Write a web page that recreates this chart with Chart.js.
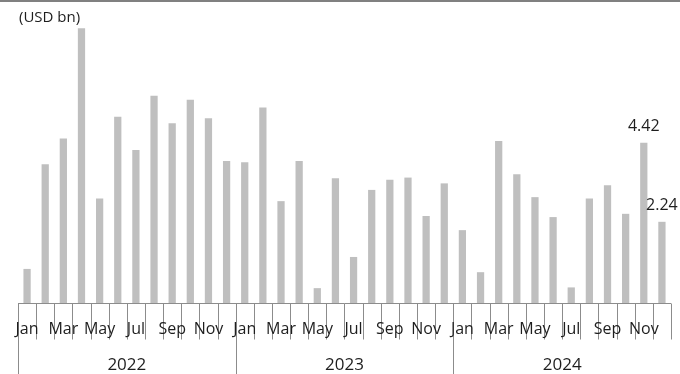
<!DOCTYPE html>
<html>
<head>
<meta charset="utf-8">
<script src="https://cdn.jsdelivr.net/npm/chart.js@4"></script>
<style>
  html, body { margin: 0; padding: 0; background: #ffffff; }
  #wrap { width: 680px; height: 374px; }
</style>
</head>
<body>
<div id="wrap"><canvas id="c" width="680" height="374"></canvas></div>
<script>
// Monthly amounts, USD bn
const monthNames = ['Jan','Feb','Mar','Apr','May','Jun','Jul','Aug','Sep','Oct','Nov','Dec'];
const years = ['2022', '2023', '2024'];
const values2022 = [0.94, 3.83, 4.54, 7.58, 2.88, 5.14, 4.22, 5.72, 4.96, 5.61, 5.10, 3.92];
const values2023 = [3.88, 5.39, 2.81, 3.92, 0.41, 3.44, 1.27, 3.12, 3.40, 3.46, 2.40, 3.30];
const values2024 = [2.01, 0.85, 4.47, 3.55, 2.92, 2.37, 0.43, 2.88, 3.25, 2.46, 4.42, 2.24];
// months whose value is written above the bar
const labelledMonths = ['2024-Nov', '2024-Dec'];

const categories = [];
years.forEach(y => monthNames.forEach(m => categories.push(y + '-' + m)));
const values = [].concat(values2022, values2023, values2024);

const AXIS_COLOR = '#8c8c8c';
const TEXT_COLOR = '#1e1e1e';

// two-level time axis: month row (every other month named) and year row
const axisPlugin = {
  id: 'twoLevelAxis',
  afterDraw(chart) {
    const ctx = chart.ctx;
    const x = chart.scales.x;
    const area = chart.chartArea;
    const base = Math.round(area.bottom) + 0.5;
    const n = categories.length;
    const half = (x.getPixelForValue(1) - x.getPixelForValue(0)) / 2;
    const edge = i => x.getPixelForValue(i) - half;

    ctx.save();
    // frame line along the top
    ctx.fillStyle = '#808080';
    ctx.fillRect(0, 0, chart.width, 2);

    ctx.strokeStyle = AXIS_COLOR;
    ctx.lineWidth = 1;
    ctx.beginPath();
    ctx.moveTo(edge(0), base);
    ctx.lineTo(edge(n), base);
    for (let i = 0; i <= n; i++) {
      const px = Math.round(edge(i)) + 0.5;
      const isYearEdge = (i % 12 === 0) && i < n;
      ctx.moveTo(px, base);
      ctx.lineTo(px, isYearEdge ? chart.height : base + 36);
    }
    ctx.stroke();

    ctx.fillStyle = TEXT_COLOR;
    ctx.textAlign = 'center';
    ctx.textBaseline = 'alphabetic';
    ctx.font = '16px "Open Sans"';
    categories.forEach((c, i) => {
      if (i % 2 === 0) {
        ctx.fillText(c.split('-')[1], x.getPixelForValue(i), base + 30);
      }
    });
    ctx.font = '17px "Open Sans"';
    years.forEach((y, k) => {
      const mid = (edge(k * 12) + edge(k * 12 + 12)) / 2;
      ctx.fillText(y, mid, base + 66);
    });

    // unit caption
    ctx.textAlign = 'left';
    ctx.font = '15px "Open Sans"';
    ctx.fillText('(USD bn)', 19, 22);
    ctx.restore();
  }
};

// value labels above selected bars
const valueLabelPlugin = {
  id: 'valueLabels',
  afterDatasetsDraw(chart) {
    const ctx = chart.ctx;
    const meta = chart.getDatasetMeta(0);
    ctx.save();
    ctx.fillStyle = TEXT_COLOR;
    ctx.font = '16px "Open Sans"';
    ctx.textAlign = 'center';
    ctx.textBaseline = 'alphabetic';
    labelledMonths.forEach(key => {
      const i = categories.indexOf(key);
      const bar = meta.data[i];
      ctx.fillText(values[i].toFixed(2), bar.x, bar.y - 12);
    });
    ctx.restore();
  }
};

new Chart(document.getElementById('c'), {
  type: 'bar',
  data: {
    labels: categories,
    datasets: [{
      data: values,
      backgroundColor: '#bfbfbf',
      borderWidth: 0,
      barPercentage: 0.4,
      categoryPercentage: 1.0
    }]
  },
  options: {
    responsive: false,
    animation: false,
    layout: { padding: { left: 18, right: 9, top: 13, bottom: 71 } },
    plugins: { legend: { display: false }, tooltip: { enabled: false } },
    scales: {
      x: { display: false },
      y: { display: false, min: 0, max: 8 }
    }
  },
  plugins: [axisPlugin, valueLabelPlugin]
});
</script>
</body>
</html>
